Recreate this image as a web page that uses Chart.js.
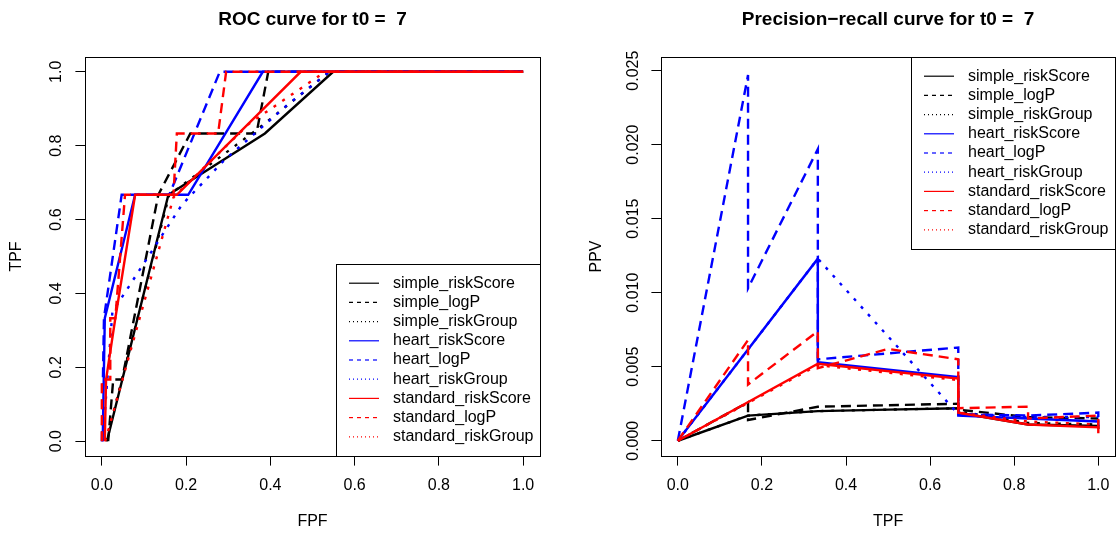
<!DOCTYPE html>
<html>
<head>
<meta charset="utf-8">
<title>ROC and precision-recall curves</title>
<script src="https://cdn.jsdelivr.net/npm/chart.js@4.4.1/dist/chart.umd.min.js"></script>
<style>
  html, body { margin: 0; padding: 0; background: #fff; overflow: hidden; }
  #wrap { position: relative; width: 1116px; height: 535px; overflow: hidden; }
  #roc { position: absolute; left: 0; top: 0; }
  #pr { position: absolute; left: 558px; top: 0; }
</style>
</head>
<body>
<div id="wrap">
  <canvas id="roc" width="558" height="535"></canvas>
  <canvas id="pr" width="562" height="535"></canvas>
</div>
<script>
// series names, in plotting order
var seriesNames = ['simple_riskScore', 'simple_logP', 'simple_riskGroup',
                   'heart_riskScore', 'heart_logP', 'heart_riskGroup',
                   'standard_riskScore', 'standard_logP', 'standard_riskGroup'];
var seriesColors = ['#000000', '#000000', '#000000', '#0000ff', '#0000ff', '#0000ff', '#ff0000', '#ff0000', '#ff0000'];
var seriesLty = ['solid', 'dashed', 'dotted', 'solid', 'dashed', 'dotted', 'solid', 'dashed', 'dotted'];

// ROC curve points: [FPF, TPF]
var rocSimpleRiskScore = [[0.012, 0], [0.158, 0.667], [0.387, 0.833], [0.549, 1], [1, 1]];
var rocSimpleLogP = [[0.015, 0], [0.027, 0.167], [0.048, 0.167], [0.134, 0.667], [0.21, 0.833], [0.367, 0.833], [0.395, 1], [1, 1]];
var rocSimpleRiskGroup = [[0.01, 0], [0.16, 0.667], [0.37, 0.845], [0.54, 1], [1, 1]];
var rocHeartRiskScore = [[0.002, 0], [0.007, 0.333], [0.079, 0.667], [0.205, 0.667], [0.382, 1], [1, 1]];
var rocHeartLogP = [[0, 0], [0.005, 0.333], [0.047, 0.667], [0.16, 0.667], [0.28, 1], [1, 1]];
var rocHeartRiskGroup = [[0.002, 0], [0.025, 0.35], [0.19, 0.64], [0.29, 0.76], [0.44, 0.91], [0.54, 1], [1, 1]];
var rocStandardRiskScore = [[0.007, 0], [0.01, 0.167], [0.032, 0.333], [0.079, 0.667], [0.178, 0.667], [0.472, 1], [1, 1]];
var rocStandardLogP = [[0, 0], [0, 0.167], [0.02, 0.167], [0.02, 0.333], [0.032, 0.333], [0.055, 0.667], [0.17, 0.667], [0.178, 0.833], [0.276, 0.833], [0.295, 1], [1, 1]];
var rocStandardRiskGroup = [[0.008, 0], [0.17, 0.66], [0.35, 0.86], [0.53, 1], [1, 1]];

// precision-recall points: [TPF, PPV]
var prSimpleRiskScore = [[0, 0], [0.167, 0.0017], [0.333, 0.0020], [0.5, 0.0021], [0.667, 0.0022], [0.667, 0.0019], [0.833, 0.0011], [1, 0.0010], [1, 0.0008]];
var prSimpleLogP = [[0, 0], [0.167, 0.0026], [0.167, 0.0014], [0.333, 0.0023], [0.5, 0.0024], [0.667, 0.0025], [0.667, 0.0021], [0.833, 0.0016], [1, 0.0015]];
var prSimpleRiskGroup = [[0, 0], [0.167, 0.0017], [0.333, 0.0020], [0.667, 0.0022], [0.667, 0.0020], [0.833, 0.0012], [1, 0.0011]];
var prHeartRiskScore = [[0, 0], [0.333, 0.0123], [0.333, 0.0053], [0.667, 0.0043], [0.667, 0.0017], [0.833, 0.0015], [1, 0.0013], [1, 0.0010]];
var prHeartLogP = [[0, 0], [0.167, 0.0247], [0.167, 0.0103], [0.333, 0.0197], [0.333, 0.0055], [0.667, 0.0063], [0.667, 0.0018], [0.833, 0.0017], [1, 0.0019], [1, 0.0016]];
var prHeartRiskGroup = [[0, 0], [0.333, 0.0123], [0.667, 0.0018], [0.833, 0.0016], [1, 0.0016]];
var prStandardRiskScore = [[0, 0], [0.333, 0.0052], [0.667, 0.0042], [0.667, 0.0019], [0.833, 0.0011], [1, 0.0009], [1, 0.0005]];
var prStandardLogP = [[0, 0], [0.167, 0.0068], [0.167, 0.0038], [0.333, 0.0074], [0.333, 0.0049], [0.5, 0.0062], [0.667, 0.0055], [0.667, 0.0022], [0.833, 0.0023], [0.833, 0.0015], [1, 0.0017], [1, 0.0007]];
var prStandardRiskGroup = [[0, 0], [0.333, 0.0051], [0.667, 0.0041], [0.667, 0.0019], [0.833, 0.0013], [1, 0.0011]];

// tick labels
var fracTicks = [0, 0.2, 0.4, 0.6, 0.8, 1.0];
var ppvTicks = [0, 0.005, 0.010, 0.015, 0.020, 0.025];

var FONT = '"Liberation Sans", Arial, Helvetica, sans-serif';
Chart.defaults.font.family = FONT;
Chart.defaults.color = '#000';

var lineDash = { solid: [], dashed: [10, 6], dotted: [3, 7.5] };
var legendDash = { solid: [], dashed: [4, 4], dotted: [1, 3] };

// R style box round the plot and legend inside it
var rBox = {
  id: 'rBox',
  afterDraw: function (chart, args, opts) {
    var ctx = chart.ctx, a = chart.chartArea;
    ctx.save();
    ctx.strokeStyle = '#000';
    ctx.lineWidth = 1;
    ctx.strokeRect(Math.round(a.left) + 0.5, Math.round(a.top) + 0.5,
                   Math.round(a.right - a.left), Math.round(a.bottom - a.top));

    var sets = chart.data.datasets;
    var rowH = 19.2;
    ctx.font = '16px ' + FONT;
    var textW = 0;
    sets.forEach(function (d) { textW = Math.max(textW, ctx.measureText(d.label).width); });
    var w = Math.round(57 + textW + 6), h = Math.round(rowH * (sets.length + 1) - 0.5);
    var x0 = Math.round(a.right) - w;
    var y0 = opts.corner === 'bottomright' ? Math.round(a.bottom) - h : Math.round(a.top);
    ctx.fillStyle = '#fff';
    ctx.fillRect(x0, y0, w, h);
    ctx.strokeRect(x0 + 0.5, y0 + 0.5, w, h);
    sets.forEach(function (d, i) {
      var cy = y0 + rowH * (i + 1);
      ctx.beginPath();
      ctx.setLineDash(legendDash[seriesLty[i]]);
      ctx.strokeStyle = d.borderColor;
      ctx.lineWidth = 1.2;
      ctx.moveTo(x0 + 13, cy);
      ctx.lineTo(x0 + 43, cy);
      ctx.stroke();
      ctx.setLineDash([]);
      ctx.fillStyle = '#000';
      ctx.textBaseline = 'middle';
      ctx.textAlign = 'left';
      ctx.fillText(d.label, x0 + 57, cy);
    });
    ctx.restore();
  }
};

function makeChart(id, cfg) {
  return new Chart(document.getElementById(id), {
    type: 'scatter',
    data: {
      datasets: seriesNames.map(function (name, i) {
        return {
          label: name,
          data: cfg.series[i].map(function (p) { return { x: p[0], y: p[1] }; }),
          showLine: true,
          borderColor: seriesColors[i],
          backgroundColor: seriesColors[i],
          borderWidth: 2.4,
          borderDash: lineDash[seriesLty[i]],
          pointRadius: 0,
          pointHoverRadius: 0,
          tension: 0,
          fill: false,
          order: -i
        };
      })
    },
    options: {
      responsive: false,
      animation: false,
      devicePixelRatio: 1,
      layout: { padding: { left: 0, right: cfg.padRight, top: 0, bottom: 0 } },
      plugins: {
        legend: { display: false },
        tooltip: { enabled: false },
        title: {
          display: true, text: cfg.title, fullSize: false, color: '#000',
          font: { size: 19, weight: 'bold' }, padding: { top: 8, bottom: 26.2 }
        },
        rBox: { corner: cfg.legendCorner }
      },
      scales: {
        x: {
          type: 'linear', min: -0.04, max: 1.04,
          afterBuildTicks: function (s) { s.ticks = fracTicks.map(function (v) { return { value: v }; }); },
          afterFit: function (s) { s.height = 79; },
          ticks: {
            callback: function (v) { return v.toFixed(1); },
            font: { size: 16 }, color: '#000', padding: 10.4, maxRotation: 0, autoSkip: false
          },
          grid: { display: true, drawOnChartArea: false, drawTicks: true, tickLength: 9.6, color: '#000' },
          border: { display: false },
          title: { display: true, text: cfg.xTitle, color: '#000', font: { size: 16 }, padding: { top: 0, bottom: 3.4 } }
        },
        y: {
          type: 'linear', min: cfg.yMin, max: cfg.yMax,
          afterBuildTicks: function (s) { s.ticks = cfg.yTicks.map(function (v) { return { value: v }; }); },
          afterFit: function (s) { s.width = cfg.yWidth; },
          ticks: {
            callback: function (v) { return v.toFixed(cfg.yDigits); },
            font: { size: 16 }, color: '#000', padding: cfg.yLabelPad,
            minRotation: 90, maxRotation: 90, crossAlign: 'center', autoSkip: false
          },
          grid: { display: true, drawOnChartArea: false, drawTicks: true, tickLength: 9.6, color: '#000' },
          border: { display: false },
          title: { display: true, text: cfg.yTitle, color: '#000', font: { size: 16 }, padding: { top: cfg.yTitlePad, bottom: 0 } }
        }
      }
    },
    plugins: [rBox]
  });
}

makeChart('roc', {
  title: 'ROC curve for t0 =  7',
  xTitle: 'FPF', yTitle: 'TPF',
  series: [rocSimpleRiskScore, rocSimpleLogP, rocSimpleRiskGroup,
           rocHeartRiskScore, rocHeartLogP, rocHeartRiskGroup,
           rocStandardRiskScore, rocStandardLogP, rocStandardRiskGroup],
  yTicks: fracTicks, yDigits: 1, yMin: -0.04, yMax: 1.04,
  yWidth: 85, padRight: 18, yLabelPad: 7.3, yTitlePad: 7.4,
  legendCorner: 'bottomright'
});

makeChart('pr', {
  title: 'Precision\u2212recall curve for t0 =  7',
  xTitle: 'TPF', yTitle: 'PPV',
  series: [prSimpleRiskScore, prSimpleLogP, prSimpleRiskGroup,
           prHeartRiskScore, prHeartLogP, prHeartRiskGroup,
           prStandardRiskScore, prStandardLogP, prStandardRiskGroup],
  yTicks: ppvTicks, yDigits: 3, yMin: -0.00103, yMax: 0.02592,
  yWidth: 103, padRight: 2.5, yLabelPad: -2.6, yTitlePad: 29.4,
  legendCorner: 'topright'
});
</script>
</body>
</html>
